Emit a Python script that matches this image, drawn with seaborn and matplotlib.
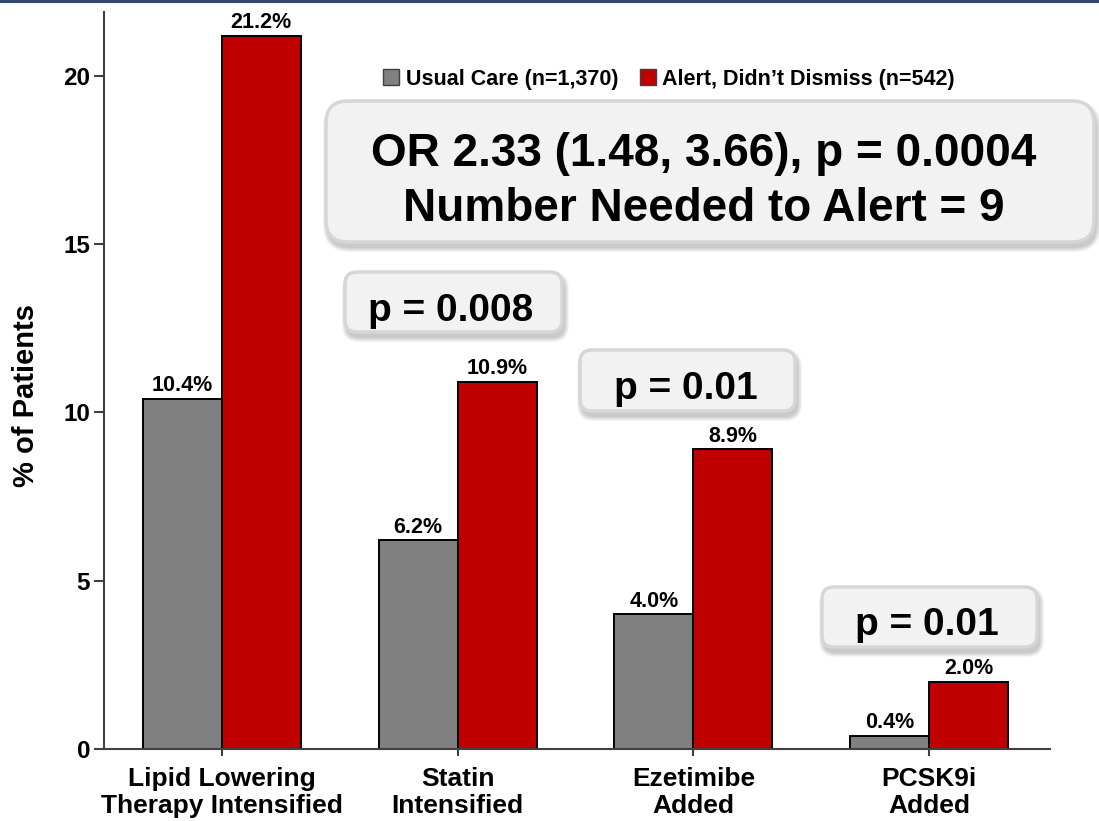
import matplotlib
matplotlib.use("Agg")
import matplotlib.pyplot as plt
import pandas as pd
import seaborn as sns
from matplotlib.patches import FancyBboxPatch, Patch
from matplotlib.lines import Line2D

# ---- data -------------------------------------------------------------
categories = ["Lipid Lowering\nTherapy Intensified", "Statin\nIntensified",
              "Ezetimibe\nAdded", "PCSK9i\nAdded"]
groups = ["Usual Care (n=1,370)", "Alert, Didn\u2019t Dismiss (n=542)"]
usual_care = [10.4, 6.2, 4.0, 0.4]
alert_not_dismissed = [21.2, 10.9, 8.9, 2.0]
y_ticks = [0, 5, 10, 15, 20]
headline = ["OR 2.33 (1.48, 3.66), p = 0.0004", "Number Needed to Alert = 9"]
p_values = ["p = 0.008", "p = 0.01", "p = 0.01"]

colors = ["#808080", "#c00000"]

# ---- style ------------------------------------------------------------
sns.set_style("white")
plt.rcParams["font.family"] = ["Liberation Sans", "DejaVu Sans"]
plt.rcParams["font.weight"] = "bold"
plt.rcParams["text.color"] = "black"

W, H = 1099, 821
fig = plt.figure(figsize=(W / 100, H / 100), dpi=100)
fig.patch.set_facecolor("white")
ax = fig.add_axes([104 / W, 1 - 749 / H, (1050 - 104) / W, (749 - 12) / H])

df = pd.DataFrame({
    "category": categories * 2,
    "group": [groups[0]] * len(categories) + [groups[1]] * len(categories),
    "pct": usual_care + alert_not_dismissed,
})

sns.barplot(data=df, x="category", y="pct", hue="group", order=categories,
            hue_order=groups, palette=colors, width=0.67, saturation=1,
            edgecolor="black", linewidth=1.4, legend=False, ax=ax)

for cont in ax.containers:
    vals = [b.get_height() for b in cont]
    ax.bar_label(cont, labels=[f"{v:.1f}%" for v in vals], padding=2,
                 fontsize=15.5, fontweight="bold", color="black", clip_on=False)

ax.set_xlim(-0.5, 3.513)
ax.set_ylim(0, 21.9)
ax.set_yticks(y_ticks)
ax.set_yticklabels([str(t) for t in y_ticks])

for side in ("top", "right"):
    ax.spines[side].set_visible(False)
for side in ("left", "bottom"):
    ax.spines[side].set_color("#404040")
    ax.spines[side].set_linewidth(1.5)

ax.tick_params(axis="y", left=True, length=7, width=1.5, color="#404040",
               pad=3, labelsize=17.5, labelcolor="black")
ax.tick_params(axis="x", bottom=True, length=5, width=1.5, color="#404040",
               pad=8, labelsize=19, labelcolor="black")
for lab in ax.get_xticklabels() + ax.get_yticklabels():
    lab.set_fontweight("bold")
for lab in ax.get_xticklabels():
    lab.set_linespacing(1.15)

ax.set_xlabel("")
ax.set_ylabel("% of Patients", fontsize=21, fontweight="bold", color="black")
ax.yaxis.set_label_coords(-0.0677, 0.48)

# ---- legend -----------------------------------------------------------
handles = [Patch(facecolor=c, edgecolor="#404040", linewidth=1.0) for c in colors]
fig.legend(handles=handles, labels=groups, ncol=2, frameon=False,
           loc="center", bbox_to_anchor=(669 / W, 1 - 79 / H),
           prop={"size": 15.5, "weight": "bold"}, handlelength=0.75,
           handleheight=0.75, handletextpad=0.3, columnspacing=1.0,
           borderaxespad=0, labelcolor="black")


# ---- call-out boxes (pixel coordinates measured from the top-left) ----
def callout(x0, y0, x1, y1, radius):
    tr = fig.dpi_scale_trans
    left, bottom = x0 / 100, (H - y1) / 100
    w, h = (x1 - x0) / 100, (y1 - y0) / 100
    style = f"round,pad=0,rounding_size={radius / 100}"
    # soft drop shadow
    for grow in (0.05, 0.04, 0.03, 0.02, 0.01):
        sh = FancyBboxPatch((left + 0.02 - grow, bottom - 0.05 - grow),
                            w + 2 * grow, h + 2 * grow,
                            boxstyle=f"round,pad=0,rounding_size={(radius + grow * 100) / 100}",
                            transform=tr, facecolor="black", edgecolor="none",
                            alpha=0.045, zorder=5)
        fig.add_artist(sh)
    box = FancyBboxPatch((left, bottom), w, h, boxstyle=style, transform=tr,
                         facecolor="#f2f2f2", edgecolor="#d6d6d6",
                         linewidth=2.5, zorder=6)
    fig.add_artist(box)


def label(x, y_base, text, size):
    fig.text(x / W, 1 - y_base / H, text, ha="center", va="baseline",
             fontsize=size, fontweight="bold", color="black", zorder=7)


callout(326, 101, 1094, 242, 22)
label(704, 166, headline[0], 33)
label(704, 221, headline[1], 33)

callout(345, 272, 562, 332, 12)
label(451, 321, p_values[0], 28)

callout(580, 350, 795, 411, 12)
label(686, 399, p_values[1], 28)

callout(822, 587, 1037, 647, 12)
label(927, 635, p_values[2], 28)

# thin rule across the top edge
fig.add_artist(Line2D([0, 1], [1 - 1 / H, 1 - 1 / H], transform=fig.transFigure,
                      color="#2d4a6b", linewidth=2.2))

fig.savefig("out.png", dpi=100)
